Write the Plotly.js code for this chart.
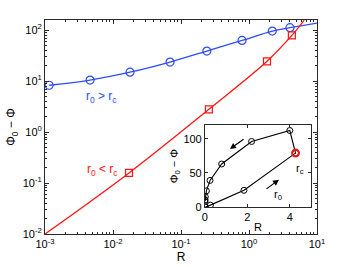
<!DOCTYPE html>
<html>
<head>
<meta charset="utf-8">
<script src="https://cdn.plot.ly/plotly-3.0.1.min.js"></script>
<style>html,body{margin:0;padding:0;background:#fff}#chart{width:350px;height:267px}</style>
</head>
<body>
<div id="chart"></div>
<script>
// r0 > rc branch (blue circles)
const blueR   = [0.00115, 0.0046, 0.0178, 0.069, 0.24, 0.79, 2.2, 4.0];
const bluePhi = [8.3, 10.5, 15, 23.7, 39, 63, 96, 112];
// blue curve continuation to the right edge
const blueTailR   = [10];
const blueTailPhi = [138];
// r0 < rc branch (red squares)
const redR   = [0.0172, 0.257, 1.84, 4.27];
const redPhi = [0.158, 2.8, 24.5, 79];
// red curve start and continuation past the top edge
const redHeadR   = [0.001];
const redHeadPhi = [0.01];
const redTailR   = [6.5];
const redTailPhi = [157];

// tick labels
const xTickVals = [0.001, 0.01, 0.1, 1, 10];
const xTickText = ['10<sup>-3</sup>', '10<sup>-2</sup>', '10<sup>-1</sup>', '10<sup>0</sup>', '10<sup>1</sup>'];
const yTickVals = [0.01, 0.1, 1, 10, 100];
const yTickText = ['10<sup>-2</sup>', '10<sup>-1</sup>', '10<sup>0</sup>', '10<sup>1</sup>', '10<sup>2</sup>'];
const insetXTicks = [0, 2, 4];
const insetYTicks = [0, 50, 100];

function minorLog(d0, d1) {
  const out = [];
  for (let d = d0; d < d1; d++) for (let k = 2; k <= 9; k++) out.push(k * Math.pow(10, d));
  return out;
}

const BLUE = 'rgb(45,75,255)';
const RED = 'rgb(255,20,20)';
const AX = '#2a2a2a';
const FONT = 'Liberation Sans, Arial, Helvetica, sans-serif';

const traces = [
  {x: blueR.concat(blueTailR), y: bluePhi.concat(blueTailPhi), mode: 'lines',
   line: {color: BLUE, width: 1.3, shape: 'spline'}, xaxis: 'x', yaxis: 'y', hoverinfo: 'skip'},
  {x: blueR, y: bluePhi, mode: 'markers',
   marker: {symbol: 'circle-open', size: 8, color: BLUE, line: {width: 1.2, color: BLUE}}, xaxis: 'x', yaxis: 'y'},
  {x: redHeadR.concat(redR, redTailR), y: redHeadPhi.concat(redPhi, redTailPhi), mode: 'lines',
   line: {color: RED, width: 1.3, shape: 'spline'}, xaxis: 'x', yaxis: 'y', hoverinfo: 'skip'},
  {x: redR, y: redPhi, mode: 'markers',
   marker: {symbol: 'square-open', size: 7, color: RED, line: {width: 1.2, color: RED}}, xaxis: 'x', yaxis: 'y'},
  // inset: lower branch (red) then upper branch (blue) back toward origin
  {x: redR.concat(blueR.slice().reverse()), y: redPhi.concat(bluePhi.slice().reverse()), mode: 'lines+markers',
   line: {color: '#000', width: 1.1},
   marker: {symbol: 'circle-open', size: 6, color: '#000', line: {width: 1, color: '#000'}},
   xaxis: 'x2', yaxis: 'y2'},
  {x: redR.slice(-1), y: redPhi.slice(-1), mode: 'markers',
   marker: {symbol: 'circle-open', size: 7, color: RED, line: {width: 2, color: RED}},
   xaxis: 'x2', yaxis: 'y2'}
];

const baseAxis = {
  showline: true, linecolor: AX, linewidth: 1, mirror: 'ticks', ticks: 'inside', tickcolor: AX,
  showgrid: false, zeroline: false, tickfont: {family: FONT, size: 11, color: '#000'}
};

const layout = {
  width: 350, height: 267,
  margin: {l: 45, r: 33, t: 20, b: 33},
  paper_bgcolor: '#fff', plot_bgcolor: '#fff',
  showlegend: false,
  font: {family: FONT, color: '#000'},
  xaxis: Object.assign({}, baseAxis, {
    type: 'log', range: [-3, 1], domain: [0, 1], anchor: 'y',
    tickmode: 'array', tickvals: xTickVals, ticktext: xTickText, ticklen: 4,
    minor: {ticks: 'inside', ticklen: 2, tickcolor: AX, tickmode: 'array', tickvals: minorLog(-3, 1), showgrid: false},
    title: {text: 'R', font: {family: FONT, size: 12, color: '#000'}, standoff: 2}
  }),
  yaxis: Object.assign({}, baseAxis, {
    type: 'log', range: [-2, 2.2], domain: [0, 1], anchor: 'x',
    tickmode: 'array', tickvals: yTickVals, ticktext: yTickText, ticklen: 4,
    minor: {ticks: 'inside', ticklen: 2, tickcolor: AX, tickmode: 'array', tickvals: minorLog(-2, 3), showgrid: false},
    title: {text: 'Φ<sub>0</sub> − Φ', font: {family: FONT, size: 12, color: '#000'}, standoff: 4}
  }),
  xaxis2: Object.assign({}, baseAxis, {
    range: [0, 5], domain: [0.588, 0.978], anchor: 'y2',
    tickmode: 'array', tickvals: insetXTicks, ticklen: 3,
    tickfont: {family: FONT, size: 11, color: '#000'},
    title: {text: 'R', font: {family: FONT, size: 11, color: '#000'}, standoff: 1}
  }),
  yaxis2: Object.assign({}, baseAxis, {
    range: [0, 120], domain: [0.126, 0.509], anchor: 'x2',
    tickmode: 'array', tickvals: insetYTicks, ticklen: 3,
    tickfont: {family: FONT, size: 11, color: '#000'},
    title: {text: 'Φ<sub>0</sub> − Φ', font: {family: FONT, size: 11, color: '#000'}, standoff: 2}
  }),
  annotations: [
    {xref: 'paper', yref: 'paper', x: 0.206, y: 0.64, xanchor: 'center', yanchor: 'middle',
     text: 'r<sub>0</sub> &gt; r<sub>c</sub>', showarrow: false, font: {family: FONT, size: 12, color: BLUE}},
    {xref: 'paper', yref: 'paper', x: 0.21, y: 0.30, xanchor: 'center', yanchor: 'middle',
     text: 'r<sub>0</sub> &lt; r<sub>c</sub>', showarrow: false, font: {family: FONT, size: 12, color: RED}},
    {xref: 'x2', yref: 'y2', axref: 'x2', ayref: 'y2', x: 1.18, y: 85, ax: 1.89, ay: 101,
     showarrow: true, arrowhead: 2, arrowsize: 1, arrowwidth: 1.2, arrowcolor: '#000', text: ''},
    {xref: 'x2', yref: 'y2', axref: 'x2', ayref: 'y2', x: 3.49, y: 40, ax: 2.83, ay: 25,
     showarrow: true, arrowhead: 2, arrowsize: 1, arrowwidth: 1.2, arrowcolor: '#000', text: ''},
    {xref: 'x2', yref: 'y2', x: 3.43, y: 17, xanchor: 'center', yanchor: 'middle',
     text: 'r<sub>0</sub>', showarrow: false, font: {family: FONT, size: 11, color: '#000'}},
    {xref: 'x2', yref: 'y2', x: 4.5, y: 56, xanchor: 'center', yanchor: 'middle',
     text: 'r<sub>c</sub>', showarrow: false, font: {family: FONT, size: 11, color: '#000'}}
  ]
};

Plotly.newPlot('chart', traces, layout, {staticPlot: true, displayModeBar: false});
</script>
</body>
</html>
